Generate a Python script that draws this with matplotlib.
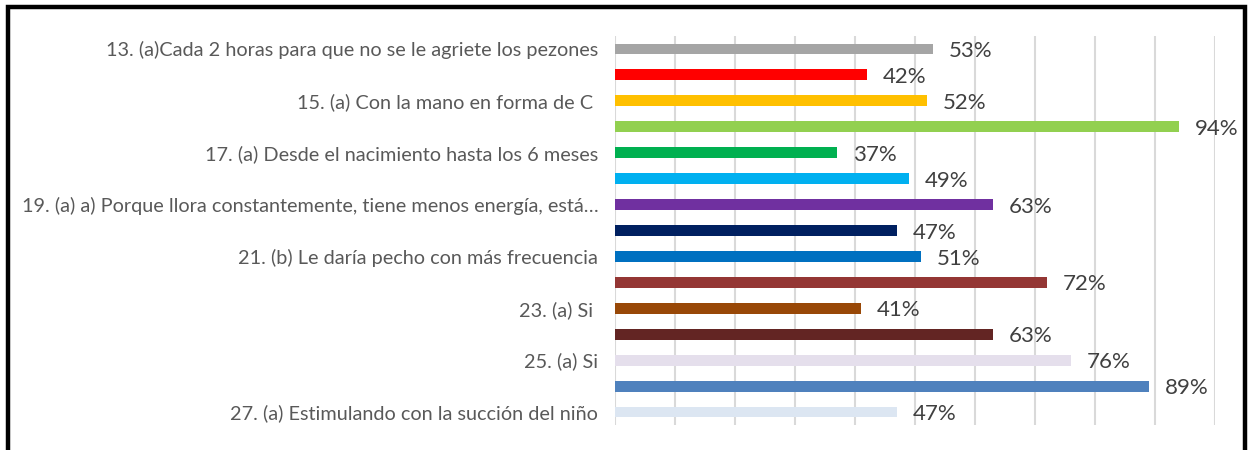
import matplotlib
matplotlib.use('Agg')
import matplotlib.pyplot as plt
from matplotlib.patches import Rectangle

# datos
etiquetas = [
    '13. (a)Cada 2 horas para que no se le agriete los pezones',
    '',
    '15. (a) Con la mano en forma de C ',
    '',
    '17. (a) Desde el nacimiento hasta los 6 meses',
    '',
    '19. (a) a) Porque llora constantemente, tiene menos energía, está…',
    '',
    '21. (b) Le daría pecho con más frecuencia',
    '',
    '23. (a) Si ',
    '',
    '25. (a) Si',
    '',
    '27. (a) Estimulando con la succión del niño',
]
valores = [53, 42, 52, 94, 37, 49, 63, 47, 51, 72, 41, 63, 76, 89, 47]
colores = ['#A5A5A5', '#FF0000', '#FFC000', '#92D050', '#00B050',
           '#00B0F0', '#7030A0', '#002060', '#0070C0', '#943634',
           '#984807', '#632523', '#E5DFEC', '#4F81BD', '#DCE6F2']

plt.rcParams['font.family'] = ['Lato', 'DejaVu Sans']

fig = plt.figure(figsize=(12.49, 4.5), dpi=100)
ax = fig.add_axes([615 / 1249, 1 - 425 / 450, 600 / 1249, 389 / 450])

pos = list(range(len(valores)))
ax.barh(pos, [v / 100 for v in valores], height=0.42, color=colores, zorder=3)

for p, v in zip(pos, valores):
    ax.text(v / 100 + 0.026, p + 0.08, f'{v}%', va='center', ha='left',
            fontsize=16, color='#404040')

ax.set_xlim(0, 1)
ax.set_ylim(14.5, -0.5)
ax.set_xticks([i / 10 for i in range(11)])
ax.set_xticklabels([])
ax.set_yticks(pos)
ax.set_yticklabels(etiquetas, fontsize=14.3, color='#595959')
ax.tick_params(axis='both', length=0)
ax.tick_params(axis='y', pad=12)
ax.grid(axis='x', color='#D9D9D9', linewidth=1.5, zorder=0)
for s in ax.spines.values():
    s.set_visible(False)

# marco negro
fig.patches.append(Rectangle((8 / 1249, -0.1), 1237 / 1249, 1.1 - 7.5 / 450,
                             transform=fig.transFigure, fill=False,
                             edgecolor='black', linewidth=3.2))

fig.savefig('out.png', dpi=100)
